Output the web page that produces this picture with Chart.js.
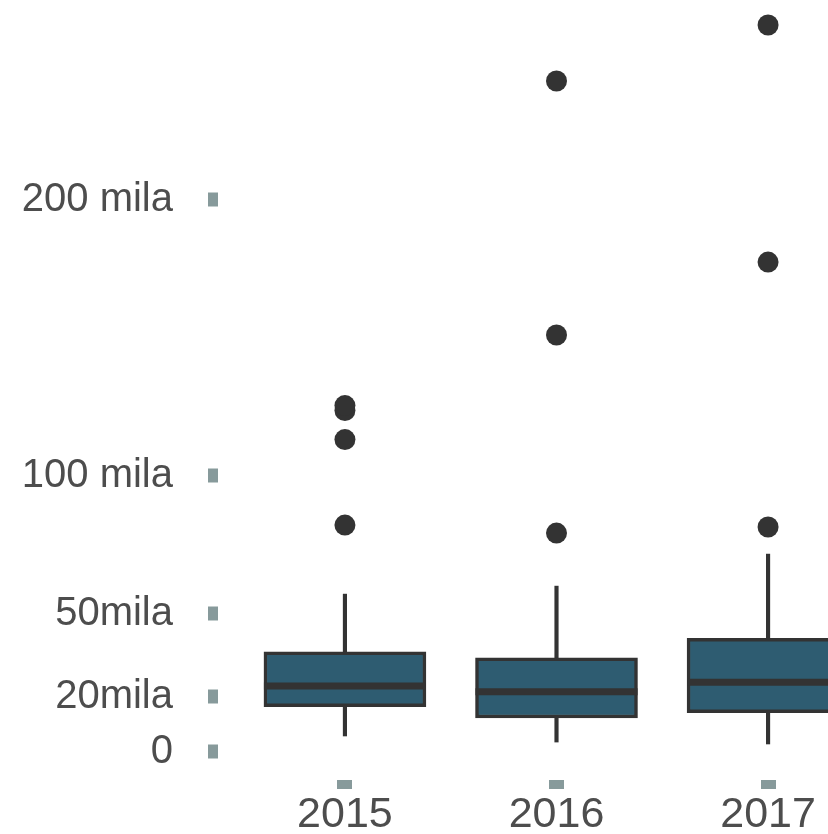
<!DOCTYPE html>
<html>
<head>
<meta charset="utf-8">
<script src="https://cdn.jsdelivr.net/npm/chart.js@4/dist/chart.umd.min.js"></script>
<style>
  html, body { margin: 0; padding: 0; background: #ffffff; overflow: hidden; width: 828px; height: 834px; }
  #wrap { position: absolute; left: 0; top: 0; width: 895px; height: 834px; }
</style>
</head>
<body>
<div id="wrap"><canvas id="c" width="895" height="834"></canvas></div>
<script>
const categories = ['2015', '2016', '2017'];
const q1 = [16400, 12300, 14200];
const median = [23900, 21800, 25300];
const q3 = [36300, 34100, 41200];
const whiskerLow = [5800, 3600, 2900];
const whiskerHigh = [57200, 60100, 71700];
const outliers = [
  [82200, 113200, 123700, 125500],
  [79300, 151100, 243100],
  [81500, 177500, 263400]
];
const yTicks = [0, 20000, 50000, 100000, 200000];
const yTickLabels = ['0', '20mila', '50mila', '100 mila', '200 mila'];

const boxData = categories.map((c, i) => ({ x: i, y: [q1[i], q3[i]] }));
const upperWhisker = categories.map((c, i) => ({ x: i, y: [q3[i], whiskerHigh[i]] }));
const lowerWhisker = categories.map((c, i) => ({ x: i, y: [whiskerLow[i], q1[i]] }));
const outlierPoints = [];
outliers.forEach((arr, i) => arr.forEach(v => outlierPoints.push({ x: i, y: v })));

const DARK = '#333333';
const TICKCOL = '#879a9b';
const LABELCOL = '#4d4d4d';

const medianPlugin = {
  id: 'medianLines',
  afterDatasetsDraw(chart) {
    const meta = chart.getDatasetMeta(0);
    const ys = chart.scales.y;
    const ctx = chart.ctx;
    ctx.save();
    ctx.strokeStyle = DARK;
    ctx.lineWidth = 7;
    ctx.lineCap = 'butt';
    meta.data.forEach((bar, i) => {
      const p = bar.getProps(['x', 'width'], true);
      const py = ys.getPixelForValue(median[i]);
      ctx.beginPath();
      ctx.moveTo(p.x - p.width / 2, py);
      ctx.lineTo(p.x + p.width / 2, py);
      ctx.stroke();
    });
    ctx.restore();
  }
};

new Chart(document.getElementById('c'), {
  type: 'bar',
  data: {
    datasets: [
      {
        label: 'box',
        data: boxData,
        backgroundColor: '#2e5c71',
        borderColor: DARK,
        borderWidth: 3.5,
        borderSkipped: false,
        barThickness: 162,
        grouped: false,
        order: 2
      },
      {
        label: 'upper whisker',
        data: upperWhisker,
        backgroundColor: DARK,
        borderWidth: 0,
        barThickness: 3.5,
        grouped: false,
        order: 3
      },
      {
        label: 'lower whisker',
        data: lowerWhisker,
        backgroundColor: DARK,
        borderWidth: 0,
        barThickness: 3.5,
        grouped: false,
        order: 3
      },
      {
        type: 'scatter',
        label: 'outliers',
        data: outlierPoints,
        backgroundColor: DARK,
        borderColor: DARK,
        borderWidth: 0,
        pointRadius: 10.5,
        order: 1
      }
    ]
  },
  options: {
    responsive: false,
    devicePixelRatio: 1,
    animation: false,
    layout: { padding: 0, autoPadding: false },
    plugins: {
      legend: { display: false },
      tooltip: { enabled: false }
    },
    scales: {
      x: {
        type: 'linear',
        offset: false,
        min: -0.6,
        max: 2.6,
        border: { display: false },
        grid: {
          display: true,
          offset: false,
          drawOnChartArea: false,
          drawTicks: true,
          tickLength: 9,
          tickWidth: 15,
          tickColor: TICKCOL
        },
        afterBuildTicks(scale) {
          scale.ticks = categories.map((c, i) => ({ value: i }));
        },
        afterFit(scale) {
          scale.height = 54;
          scale.paddingLeft = 0; scale.paddingRight = 0;
          scale.paddingTop = 0; scale.paddingBottom = 0;
        },
        ticks: {
          autoSkip: false,
          maxRotation: 0,
          padding: 0,
          color: LABELCOL,
          font: { family: "'Liberation Sans', Arial, sans-serif", size: 43 },
          callback: (v) => categories[v]
        }
      },
      y: {
        type: 'linear',
        min: -10150,
        max: 272460,
        border: { display: false },
        grid: {
          display: true,
          drawOnChartArea: false,
          drawTicks: true,
          tickLength: 10,
          tickWidth: 14,
          tickColor: TICKCOL
        },
        afterBuildTicks(scale) {
          scale.ticks = yTicks.map(v => ({ value: v }));
        },
        afterFit(scale) {
          scale.width = 218;
          scale.paddingTop = 0; scale.paddingBottom = 0;
          scale.paddingLeft = 0; scale.paddingRight = 0;
        },
        ticks: {
          autoSkip: false,
          padding: 35,
          color: LABELCOL,
          font: { family: "'Liberation Sans', Arial, sans-serif", size: 40 },
          callback: (v) => yTickLabels[yTicks.indexOf(v)]
        }
      }
    }
  },
  plugins: [medianPlugin]
});
</script>
</body>
</html>
